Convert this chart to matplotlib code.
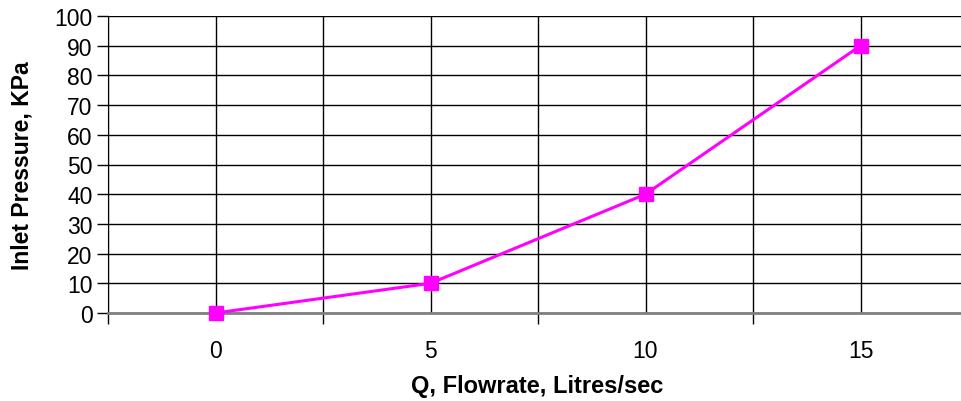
import matplotlib.pyplot as plt
import numpy as np

plt.rcParams['font.family'] = ['Liberation Sans', 'DejaVu Sans']

# data
flow = [0, 5, 10, 15]
pressure = [0, 10, 40, 90]
x_labels = ['0', '5', '10', '15']

fig = plt.figure(figsize=(9.62, 4.02), dpi=100)
ax = fig.add_axes([108 / 962, 88 / 402, 860 / 962, 297 / 402])

ax.plot(flow, pressure, color='#ff00ff', linewidth=2.2, marker='s',
        markersize=10.5, markerfacecolor='#ff00ff', markeredgecolor='#ff00ff',
        zorder=5, clip_on=False)

ax.set_xlim(-2.5, 17.5)
ax.set_ylim(0, 100)

# labels on the categories, tick marks between every second one
ax.set_xticks(flow)
ax.set_xticklabels(x_labels)
ax.set_xticks(np.arange(-2.5, 20, 5), minor=True)
ax.tick_params(axis='x', which='major', length=0, pad=19, labelsize=16.5)
ax.tick_params(axis='x', which='minor', length=8, width=1, color='black')
ax.set_yticks(np.arange(0, 101, 10))
ax.tick_params(axis='y', length=8, width=1, pad=3, labelsize=16.5)

ax.grid(True, which='major', color='black', linewidth=1)
ax.grid(True, which='minor', axis='x', color='black', linewidth=1)
ax.set_axisbelow(True)

for s in ['top', 'right']:
    ax.spines[s].set_visible(False)
ax.spines['left'].set_color('black')
ax.spines['bottom'].set_color('#808080')
ax.spines['bottom'].set_linewidth(2)

ax.set_ylabel('Inlet Pressure, KPa', fontsize=16.5, fontweight='bold')
ax.set_xlabel('Q, Flowrate, Litres/sec', fontsize=17, fontweight='bold')
ax.yaxis.set_label_coords(-(108 - 34) / 860, 0.5)
ax.xaxis.set_label_coords((537 - 108) / 860, -(375 - 314) / 297)

fig.savefig('out.png', dpi=100)
